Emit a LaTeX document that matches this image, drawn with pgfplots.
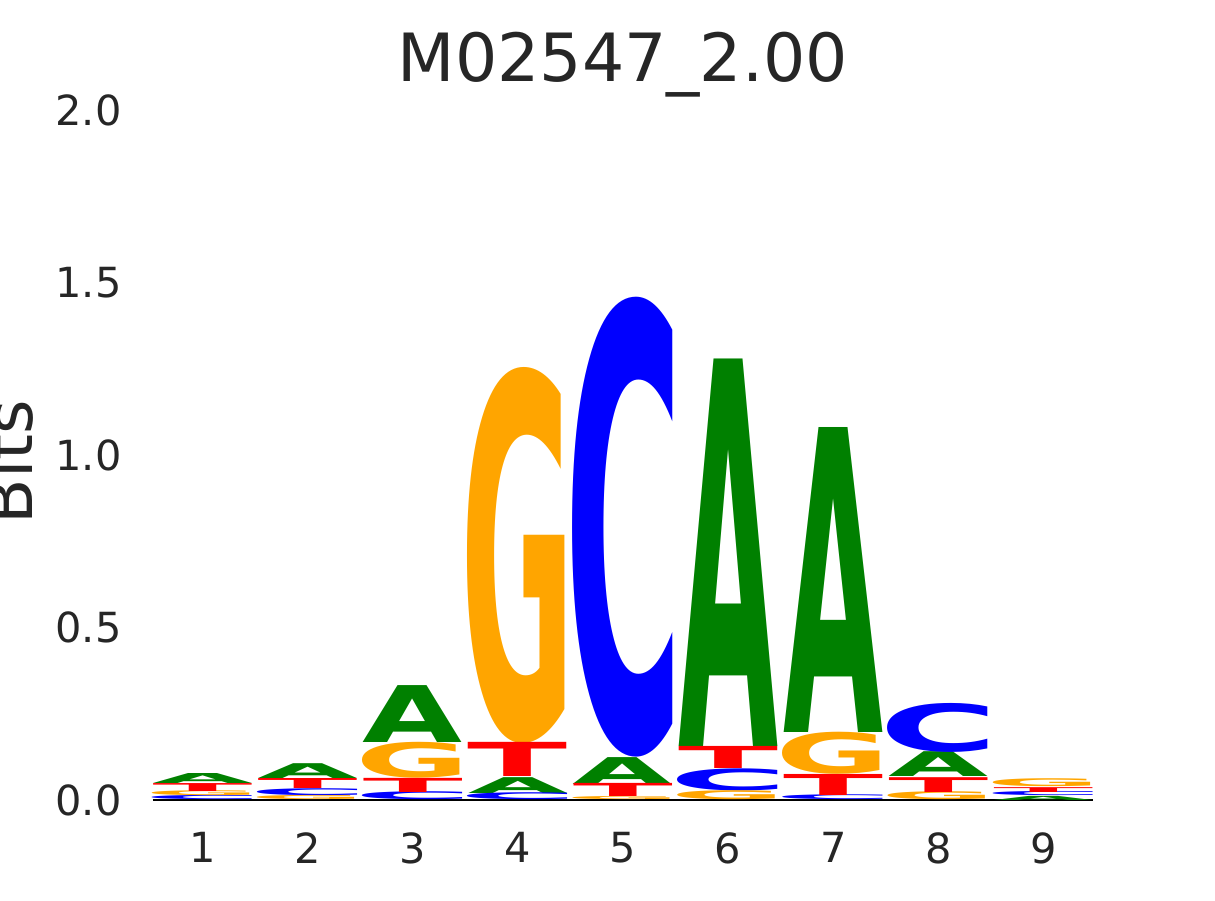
\documentclass[border=0pt]{standalone}
\usepackage{pgfplots}
\usepackage{pgfplotstable}
\usepackage{graphicx}
\usepackage{fontspec}
\pgfplotsset{compat=1.18}
\setmainfont{DejaVu Sans}
\definecolor{txt}{HTML}{262626}
\definecolor{colA}{RGB}{0,128,0}
\definecolor{colC}{RGB}{0,0,255}
\definecolor{colG}{RGB}{255,165,0}
\definecolor{colT}{RGB}{255,0,0}
\newlength\yu
\setlength\yu{138pt}% one bit
\newlength\lh

% x = position, y = bottom of letter, h = letter height (bits)
\pgfplotstableread{
x y h
1 0.049 0.029
2 0.061 0.043
3 0.168 0.165
4 0.020 0.046
5 0.046 0.078
6 0.154 1.122
7 0.197 0.884
8 0.067 0.072
9 0.000 0.012
}\tabA
\pgfplotstableread{
x y h
1 0.000 0.012
2 0.012 0.020
3 0.000 0.023
4 0.000 0.020
5 0.125 1.333
6 0.026 0.064
7 0.000 0.014
8 0.139 0.142
9 0.012 0.012
}\tabC
\pgfplotstableread{
x y h
1 0.012 0.014
2 0.000 0.012
3 0.064 0.104
4 0.165 1.090
5 0.000 0.009
6 0.000 0.026
7 0.075 0.122
8 0.000 0.023
9 0.038 0.023
}\tabG
\pgfplotstableread{
x y h
1 0.026 0.023
2 0.032 0.029
3 0.023 0.041
4 0.067 0.099
5 0.009 0.038
6 0.090 0.064
7 0.014 0.061
8 0.023 0.043
9 0.023 0.014
}\tabT

\pgfplotsset{
  logo/.style 2 args={draw=none, mark=none, forget plot,
    point meta=explicit symbolic,
    nodes near coords={\setlength\lh{\pgfplotspointmeta\yu}\resizebox*{40pt}{\lh}{#2}},
    nodes near coords style={anchor=south, inner sep=0pt, outer sep=0pt,
      text=#1, font=\bfseries}},
}

\begin{document}
\begin{tikzpicture}
\begin{axis}[
    at={(0,0)}, anchor=south west,
    scale only axis,
    width=378.4pt, height=276pt,
    xmin=0.5, xmax=9.5,
    ymin=0, ymax=2,
    clip=false,
    axis line style={draw=none},
    tick style={draw=none},
    xtick={1,...,9},
    ytick={0,0.5,1,1.5,2},
    /pgf/number format/assume math mode=true,
    yticklabel style={/pgf/number format/fixed, /pgf/number format/fixed zerofill,
      /pgf/number format/precision=1},
    every tick label/.append style={font=\fontsize{16.6}{19}\selectfont, text=txt},
    yticklabel style={inner sep=0pt, anchor=east, xshift=-11.2pt},
    xticklabel style={inner sep=0pt, anchor=north, yshift=-12.8pt},
    title={M02547\_2.00},
    title style={at={(0.5,1)}, anchor=base, inner sep=0pt, yshift=5.6pt,
      font=\fontsize{26.6}{31}\selectfont, text=txt},
    ylabel={Bits},
    every axis y label/.style={at={(axis description cs:-0.1247,0.49)},
      rotate=90, anchor=base, inner sep=0pt,
      font=\fontsize{26.5}{30}\selectfont, text=txt},
]
\addplot[logo={colA}{A}] table[x=x, y=y, meta=h] {\tabA};
\addplot[logo={colC}{\kern-0.055em C\kern-0.06em}] table[x=x, y=y, meta=h] {\tabC};
\addplot[logo={colG}{\kern-0.055em G\kern-0.05em}] table[x=x, y=y, meta=h] {\tabG};
\addplot[logo={colT}{T}] table[x=x, y=y, meta=h] {\tabT};
% baseline
\addplot[black, line width=0.5pt, mark=none] coordinates {(0.525,0) (9.475,0)};
\end{axis}
\pgfresetboundingbox
\path (-60pt,-40pt) rectangle (426pt,320pt);
\end{tikzpicture}
\end{document}
